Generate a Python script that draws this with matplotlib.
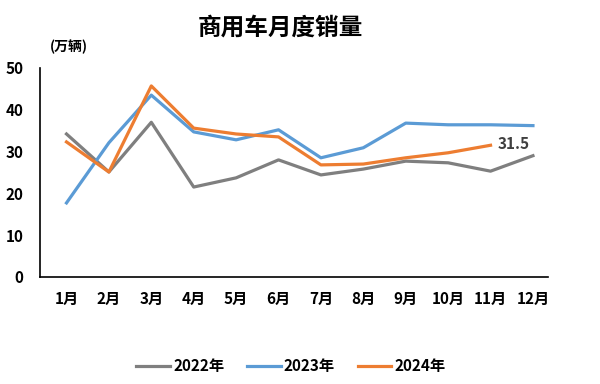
import matplotlib.pyplot as plt

plt.rcParams['font.family'] = ['Noto Sans CJK SC', 'DejaVu Sans']

# --- DATOS ---
months = ['1月', '2月', '3月', '4月', '5月', '6月', '7月', '8月', '9月', '10月', '11月', '12月']
sales_2022 = [34.2, 25.1, 37.0, 21.5, 23.7, 28.0, 24.4, 25.8, 27.7, 27.3, 25.3, 29.0]
sales_2023 = [17.7, 32.1, 43.5, 34.7, 32.8, 35.2, 28.5, 30.9, 36.8, 36.4, 36.4, 36.2]
sales_2024 = [32.3, 25.1, 45.7, 35.6, 34.2, 33.5, 26.8, 27.0, 28.5, 29.7, 31.5]

fig = plt.figure(figsize=(6, 3.84), dpi=100)
ax = fig.add_axes([0.067, 0.279, 0.846, 0.544])

x = range(len(months))
ax.plot(x, sales_2022, color='#7f7f7f', lw=2.3, label='2022年')
ax.plot(x, sales_2023, color='#5b9bd5', lw=2.3, label='2023年')
ax.plot(range(len(sales_2024)), sales_2024, color='#ed7d31', lw=2.3, label='2024年')

# etiqueta del ultimo dato 2024
ax.annotate(f'{sales_2024[-1]}', (len(sales_2024) - 1, sales_2024[-1]),
            xytext=(5, 1), textcoords='offset points', fontsize=11,
            fontweight='bold', color='#404040', va='center')

ax.set_xlim(-0.62, 11.35)
ax.set_ylim(0, 50)
ax.set_yticks([0, 10, 20, 30, 40, 50])
ax.set_xticks(list(x))
ax.set_xticklabels(months)
ax.tick_params(length=0, labelsize=11)
ax.tick_params(axis='y', pad=12)
ax.tick_params(axis='x', pad=10)
for lab in ax.get_xticklabels() + ax.get_yticklabels():
    lab.set_fontweight('bold')

for s in ['top', 'right']:
    ax.spines[s].set_visible(False)
for s in ['left', 'bottom']:
    ax.spines[s].set_color('black')
    ax.spines[s].set_linewidth(1.2)

fig.text(0.467, 0.927, '商用车月度销量', ha='center', va='center',
         fontsize=17, fontweight='bold')
fig.text(0.083, 0.877, '(万辆)', ha='left', va='center',
         fontsize=10, fontweight='bold')

fig.legend(loc='center', bbox_to_anchor=(0.485, 0.047), ncol=3, frameon=False,
           prop={'weight': 'bold', 'size': 11}, handlelength=2.2,
           handletextpad=0.2, columnspacing=1.5)

fig.savefig('out.png', dpi=100)
